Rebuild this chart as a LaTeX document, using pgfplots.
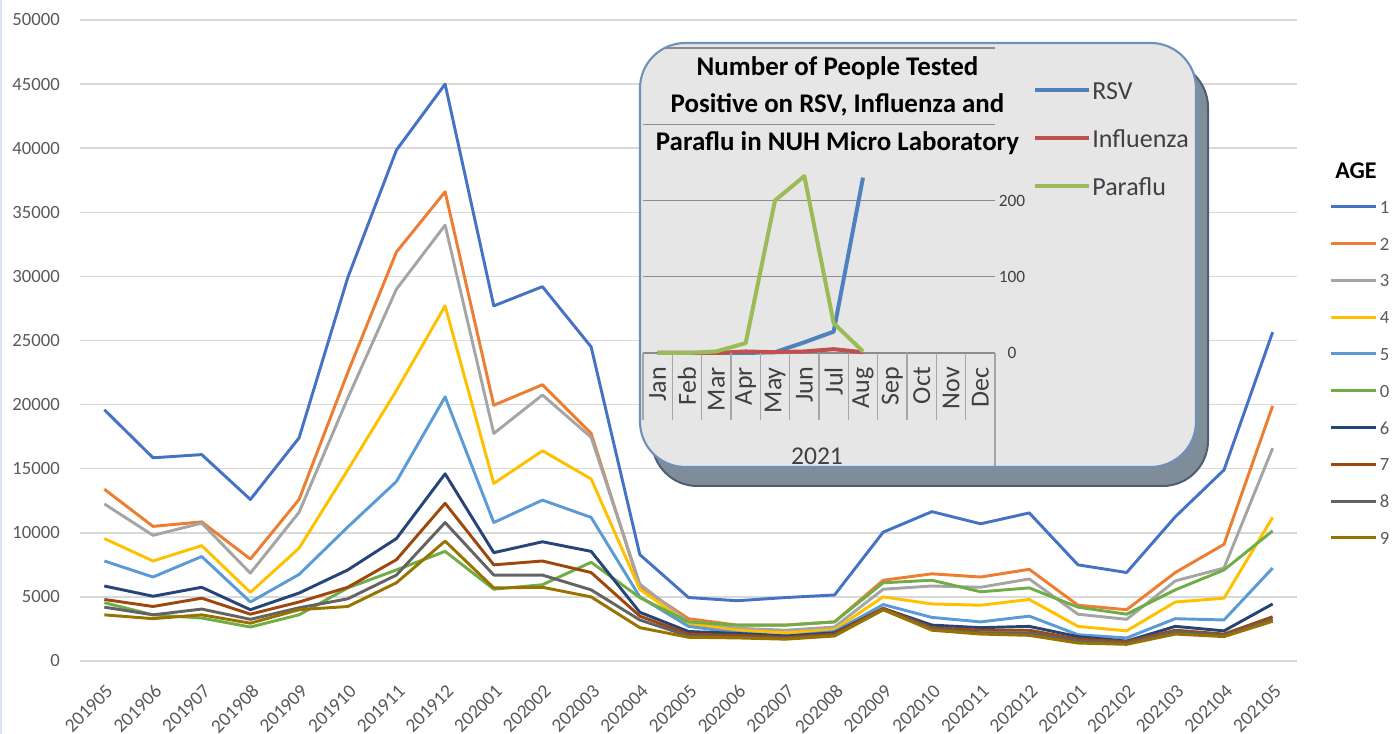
\documentclass[border=0pt]{standalone}
\usepackage{pgfplots}
\pgfplotsset{compat=1.18}
\usepackage{fontspec}
\setmainfont{Carlito}
\definecolor{c1}{HTML}{4472C4}
\definecolor{c2}{HTML}{ED7D31}
\definecolor{c3}{HTML}{A5A5A5}
\definecolor{c4}{HTML}{FFC000}
\definecolor{c5}{HTML}{5B9BD5}
\definecolor{c0}{HTML}{70AD47}
\definecolor{c6}{HTML}{264478}
\definecolor{c7}{HTML}{9E480E}
\definecolor{c8}{HTML}{636363}
\definecolor{c9}{HTML}{997300}
\definecolor{gridgray}{HTML}{D9D9D9}
\definecolor{labgray}{HTML}{595959}
\definecolor{leftline}{HTML}{DCE6F2}
\definecolor{insetfill}{HTML}{E6E6E6}
\definecolor{insetborder}{HTML}{7090BC}
\definecolor{shadowfill}{HTML}{7F8C9A}
\definecolor{shadowdraw}{HTML}{4E5D70}
\definecolor{insettxt}{HTML}{404040}
\definecolor{insetgrid}{HTML}{8C8C8C}
\definecolor{tablegray}{HTML}{A6A6A6}
\definecolor{rsv}{HTML}{4F81BD}
\definecolor{flu}{HTML}{C0504D}
\definecolor{para}{HTML}{9BBB59}
\begin{document}
\begin{tikzpicture}
\path[use as bounding box] (0,0) rectangle (1047.75pt,550.5pt);
\begin{scope}[x=0.75pt,y=-0.75pt,shift={(0pt,550.5pt)}]
\draw[color=leftline, line width=1.2pt] (1,0) -- (1,734);
\end{scope}
% ---------------- main chart ----------------
\begin{axis}[
  at={(60pt,54.75pt)}, anchor=south west,
  scale only axis, width=912.75pt, height=480.75pt,
  xmin=-0.5, xmax=24.5, ymin=0, ymax=50000,
  axis line style={draw=none},
  major tick length=0pt,
  ytick={0,5000,...,50000},
  xtick={0,...,24},
  xticklabels={201905,201906,201907,201908,201909,201910,201911,201912,202001,202002,202003,202004,202005,202006,202007,202008,202009,202010,202011,202012,202101,202102,202103,202104,202105},
  ymajorgrids, grid style={draw=gridgray, line width=1.1pt},
  tick label style={font=\fontsize{14}{14}\selectfont, text=labgray},
  yticklabel style={anchor=east, inner sep=0pt, xshift=-15pt},
  xticklabel style={font=\fontsize{14.5}{14.5}\selectfont, xshift=4pt, yshift=-20pt, rotate=45, anchor=east, inner sep=0pt},
  /pgf/number format/assume math mode=true,
  /pgf/number format/1000 sep={},
  scaled y ticks=false,
  every axis plot/.append style={line width=2.2pt, no markers, line join=round},
  legend style={at={(1.0271,0.7192)}, anchor=north west, draw=none, fill=none,
    inner sep=0pt, outer sep=0pt, font=\fontsize{14}{14}\selectfont, text=labgray,
    row sep=17.6pt, column sep=1.5pt,
    nodes={inner sep=0pt, text height=10pt, text depth=0pt}},
  legend cell align=left,
  legend image code/.code={\draw[#1] (0pt,0pt) -- (33.75pt,0pt);},
]
\addplot[c1] coordinates {(0,19600)(1,15850)(2,16100)(3,12600)(4,17400)(5,29900)(6,39850)(7,45000)(8,27700)(9,29200)(10,24500)(11,8300)(12,4950)(13,4700)(14,4950)(15,5150)(16,10050)(17,11650)(18,10700)(19,11550)(20,7500)(21,6900)(22,11250)(23,14900)(24,25650)};
\addlegendentry{1}
\addplot[c2] coordinates {(0,13400)(1,10500)(2,10850)(3,7950)(4,12600)(5,22500)(6,31900)(7,36600)(8,19950)(9,21550)(10,17750)(11,5800)(12,3300)(13,2800)(14,2800)(15,3050)(16,6300)(17,6800)(18,6550)(19,7150)(20,4350)(21,4000)(22,6900)(23,9100)(24,19900)};
\addlegendentry{2}
\addplot[c3] coordinates {(0,12250)(1,9800)(2,10750)(3,6850)(4,11600)(5,20500)(6,29000)(7,34000)(8,17750)(9,20750)(10,17450)(11,6000)(12,3050)(13,2550)(14,2400)(15,2650)(16,5600)(17,5850)(18,5750)(19,6400)(20,3650)(21,3250)(22,6250)(23,7250)(24,16600)};
\addlegendentry{3}
\addplot[c4] coordinates {(0,9550)(1,7800)(2,9000)(3,5350)(4,8800)(5,14900)(6,21100)(7,27700)(8,13850)(9,16400)(10,14200)(11,5600)(12,2900)(13,2400)(14,2200)(15,2450)(16,5000)(17,4450)(18,4350)(19,4800)(20,2700)(21,2350)(22,4600)(23,4900)(24,11200)};
\addlegendentry{4}
\addplot[c5] coordinates {(0,7800)(1,6550)(2,8150)(3,4600)(4,6750)(5,10450)(6,14000)(7,20600)(8,10800)(9,12550)(10,11200)(11,5000)(12,2700)(13,2200)(14,1950)(15,2300)(16,4400)(17,3400)(18,3050)(19,3500)(20,2050)(21,1800)(22,3300)(23,3200)(24,7250)};
\addlegendentry{5}
\addplot[c0] coordinates {(0,4550)(1,3600)(2,3350)(3,2650)(4,3600)(5,5700)(6,7100)(7,8550)(8,5600)(9,5950)(10,7700)(11,4950)(12,3050)(13,2800)(14,2800)(15,3050)(16,6100)(17,6300)(18,5400)(19,5700)(20,4200)(21,3650)(22,5550)(23,7100)(24,10150)};
\addlegendentry{0}
\addplot[c6] coordinates {(0,5850)(1,5050)(2,5750)(3,4000)(4,5300)(5,7100)(6,9550)(7,14600)(8,8450)(9,9300)(10,8550)(11,3800)(12,2300)(13,2150)(14,1950)(15,2200)(16,4100)(17,2800)(18,2600)(19,2700)(20,1900)(21,1550)(22,2700)(23,2350)(24,4450)};
\addlegendentry{6}
\addplot[c7] coordinates {(0,4800)(1,4250)(2,4900)(3,3650)(4,4600)(5,5750)(6,7900)(7,12300)(8,7500)(9,7800)(10,6900)(11,3500)(12,2100)(13,2000)(14,1850)(15,2100)(16,4100)(17,2600)(18,2400)(19,2400)(20,1700)(21,1500)(22,2400)(23,2100)(24,3450)};
\addlegendentry{7}
\addplot[c8] coordinates {(0,4200)(1,3600)(2,4050)(3,3250)(4,4150)(5,4850)(6,6700)(7,10800)(8,6700)(9,6700)(10,5550)(11,3200)(12,1950)(13,1850)(14,1750)(15,2000)(16,4000)(17,2500)(18,2200)(19,2200)(20,1550)(21,1400)(22,2300)(23,2000)(24,3250)};
\addlegendentry{8}
\addplot[c9] coordinates {(0,3600)(1,3300)(2,3600)(3,2950)(4,4000)(5,4250)(6,6100)(7,9350)(8,5700)(9,5750)(10,5000)(11,2600)(12,1850)(13,1800)(14,1700)(15,1950)(16,4000)(17,2400)(18,2100)(19,2000)(20,1400)(21,1300)(22,2100)(23,1900)(24,3100)};
\addlegendentry{9}
\end{axis}
% ---------------- inset frame ----------------
\begin{scope}[x=0.75pt,y=-0.75pt,shift={(0pt,550.5pt)}]
\path[fill=shadowfill, draw=shadowdraw, line width=1.5pt, rounded corners=34pt] (652,62) rectangle (1208,486);
\path[fill=insetfill, rounded corners=34pt] (640,43) rectangle (1196,467);
\end{scope}
\begin{scope}
\clip[x=0.75pt,y=-0.75pt,shift={(0pt,550.5pt)}, rounded corners=34pt] (640,43) rectangle (1196,467);
\begin{axis}[
  at={(482.25pt,285.75pt)}, anchor=south west,
  scale only axis, width=264pt, height=228.75pt,
  xmin=0.5, xmax=12.5, ymin=0, ymax=400,
  axis line style={draw=none},
  major tick length=0pt,
  clip=false,
  ytick={0,100,200},
  extra y ticks={300,400}, extra y tick labels={},
  extra y tick style={grid=major},
  ymajorgrids, grid style={draw=insetgrid, line width=0.8pt},
  yticklabel pos=right,
  /pgf/number format/assume math mode=true,
  yticklabel style={font=\fontsize{13}{13}\selectfont, text=insettxt, anchor=center, inner sep=0pt, xshift=12.75pt},
  xtick={1,...,12},
  xticklabels={Jan,Feb,Mar,Apr,May,Jun,Jul,Aug,Sep,Oct,Nov,Dec},
  xticklabel style={font=\fontsize{19.5}{19.5}\selectfont, text=insettxt, yshift=-10.5pt, rotate=90, anchor=east, inner sep=0pt},
  every axis plot/.append style={line width=3pt, no markers, line join=round},
  legend style={at={(1.108,0.893)}, anchor=north west, draw=none, fill=none,
    inner sep=0pt, outer sep=0pt, font=\fontsize{19.5}{19.5}\selectfont, text=insettxt,
    row sep=22pt, column sep=1pt,
    nodes={inner sep=0pt, text height=14pt, text depth=0pt}},
  legend cell align=left,
  legend image code/.code={\draw[#1] (0pt,0pt) -- (40.5pt,0pt);},
]
\addplot[rsv] coordinates {(1,0)(2,0)(3,0)(4,0)(5,1)(6,14)(7,28)(8,230)};
\addlegendentry{RSV}
\addplot[flu] coordinates {(1,0)(2,0)(3,0)(4,2)(5,1)(6,2)(7,5)(8,1)};
\addlegendentry{Influenza}
\addplot[para] coordinates {(1,0)(2,0)(3,2)(4,13)(5,200)(6,232)(7,39)(8,2)};
\addlegendentry{Paraflu}
\end{axis}
\end{scope}
\begin{scope}[x=0.75pt,y=-0.75pt,shift={(0pt,550.5pt)}]
\foreach \i in {0,...,11} \draw[tablegray, line width=0.8pt] ({643+\i*29.333},353) -- ({643+\i*29.333},420);
\draw[tablegray, line width=0.8pt] (995,353) -- (995,467);
\path[draw=insetborder, line width=1.6pt, rounded corners=34pt] (640,43) rectangle (1196,467);
\node[font=\bfseries\fontsize{20.2}{28.1}\selectfont, align=center] at (837.5,105.5) {Number of People Tested\\Positive on RSV, Influenza and\\Paraflu in NUH Micro Laboratory};
\node[font=\fontsize{19.2}{19.2}\selectfont, text=insettxt] at (817,456) {2021};
\node[font=\bfseries\fontsize{18}{18}\selectfont] at (1356,171) {AGE};
\end{scope}
\end{tikzpicture}
\end{document}
